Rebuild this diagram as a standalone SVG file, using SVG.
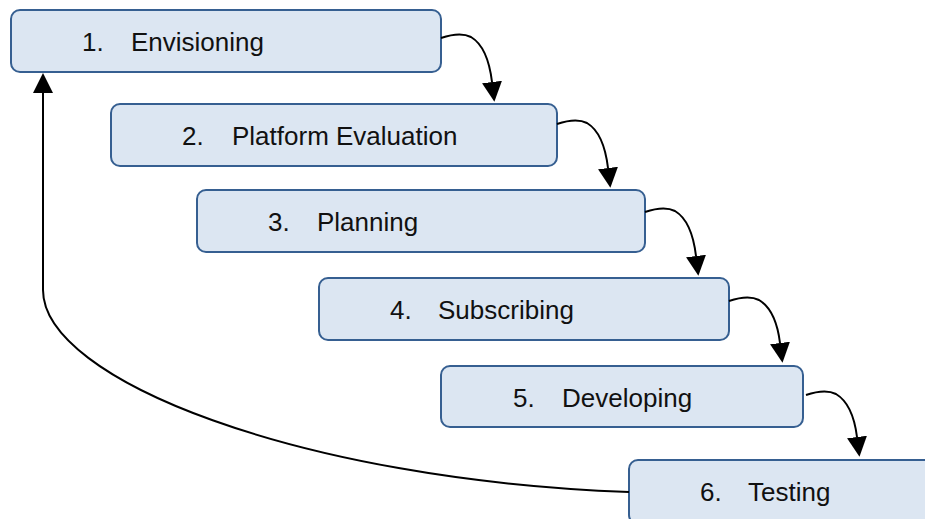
<svg xmlns="http://www.w3.org/2000/svg" width="925" height="519" viewBox="0 0 925 519">
  <style>
    .box { fill: #dce6f2; stroke: #365f91; stroke-width: 2; }
    .lbl { font-family: "Liberation Sans", Arial, sans-serif; font-size: 26px; fill: #111111; }
    .link { fill: none; stroke: #000000; stroke-width: 2; }
  </style>
  <defs>
    <marker id="head" markerUnits="userSpaceOnUse" markerWidth="20" markerHeight="20" refX="0" refY="10" orient="auto" viewBox="0 0 20 20">
      <path d="M0,0 L20,10 L0,20 z" fill="#000000"/>
    </marker>
  </defs>
  <rect width="925" height="519" fill="#ffffff"/>

  <!-- steps of the cascade -->
  <g id="step1">
    <rect class="box" x="11" y="10" width="430" height="62" rx="9"/>
    <text class="lbl" x="82" y="51">1.</text>
    <text class="lbl" x="131" y="51">Envisioning</text>
  </g>
  <g id="step2">
    <rect class="box" x="111" y="104" width="446" height="62" rx="9"/>
    <text class="lbl" x="182" y="145">2.</text>
    <text class="lbl" x="232" y="145">Platform Evaluation</text>
  </g>
  <g id="step3">
    <rect class="box" x="197" y="190" width="448" height="62" rx="9"/>
    <text class="lbl" x="268" y="231">3.</text>
    <text class="lbl" x="317" y="231">Planning</text>
  </g>
  <g id="step4">
    <rect class="box" x="319" y="278" width="410" height="62" rx="9"/>
    <text class="lbl" x="390" y="319">4.</text>
    <text class="lbl" x="438" y="319">Subscribing</text>
  </g>
  <g id="step5">
    <rect class="box" x="441" y="366" width="362" height="61" rx="9"/>
    <text class="lbl" x="513" y="407">5.</text>
    <text class="lbl" x="562" y="407">Developing</text>
  </g>
  <g id="step6">
    <rect class="box" x="629" y="460" width="310" height="64" rx="9"/>
    <text class="lbl" x="700" y="501">6.</text>
    <text class="lbl" x="748" y="501">Testing</text>
  </g>

  <!-- connectors -->
  <g id="connectors">
    <path class="link" marker-end="url(#head)" d="M441,38 c12,-4 22,-5 30,-1 c10,6 18,20 21,45"/>
    <path class="link" marker-end="url(#head)" d="M557,124 c12,-4 22,-5 30,-1 c10,6 18,20 21,45"/>
    <path class="link" marker-end="url(#head)" d="M645,212 c12,-4 22,-5 30,-1 c10,6 18,20 21,45"/>
    <path class="link" marker-end="url(#head)" d="M729,301 c12,-4 22,-5 30,-1 c10,6 18,19 21,43"/>
    <path class="link" marker-end="url(#head)" d="M806,395 c12,-4 22,-5 30,-1 c10,6 18,19 21,43"/>
    <path class="link" marker-end="url(#head)" d="M629,492 C300,480 43,380 43,290 L43,93"/>
  </g>
</svg>
